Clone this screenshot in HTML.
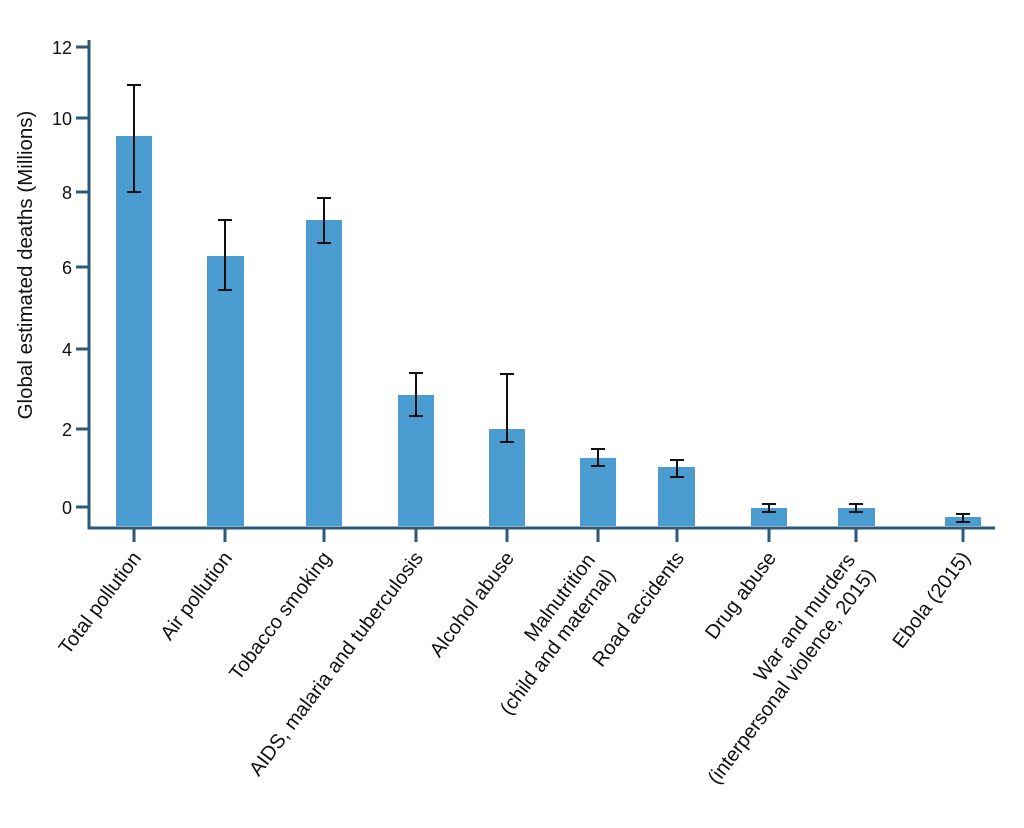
<!DOCTYPE html>
<html><head><meta charset="utf-8"><style>
body{margin:0;background:#fff}
svg{display:block;font-family:"Liberation Sans",Arial,sans-serif}
</style></head><body>
<svg width="1024" height="828" viewBox="0 0 1024 828">
<g fill="#4a9cd1">
<rect x="116" y="136" width="36" height="390"/>
<rect x="207" y="256" width="37" height="270"/>
<rect x="306" y="220" width="36" height="306"/>
<rect x="398" y="395" width="36" height="131"/>
<rect x="489" y="429" width="36" height="97"/>
<rect x="580" y="458" width="36" height="68"/>
<rect x="658" y="467" width="37" height="59"/>
<rect x="751" y="508" width="36" height="18"/>
<rect x="838" y="508" width="37" height="18"/>
<rect x="945" y="517" width="36" height="9"/>
</g>
<g stroke="#111" stroke-width="2" fill="none">
<path d="M134 85V192M127 85h14M127 192h14"/>
<path d="M225 220V290M218 220h14M218 290h14"/>
<path d="M324 198V243M317 198h14M317 243h14"/>
<path d="M416 373V416M409 373h14M409 416h14"/>
<path d="M507 374V442M500 374h14M500 442h14"/>
<path d="M598 449V466M591 449h14M591 466h14"/>
<path d="M677 460V477M670 460h14M670 477h14"/>
<path d="M769 504V512M762 504h14M762 512h14"/>
<path d="M856 504V512M849 504h14M849 512h14"/>
<path d="M963 514V522M956 514h14M956 522h14"/>
</g>
<g stroke="#2d5a7b" stroke-width="3" fill="none">
<path d="M89 40V528H995"/>
<path d="M76 47H89M76 118H89M76 192H89M76 267H89M76 349H89M76 429H89M76 507H89"/>
<path d="M134 528v14M225 528v14M324 528v14M416 528v14M507 528v14M598 528v14M677 528v14M769 528v14M856 528v14M963 528v14"/>
</g>
<g font-size="18" text-anchor="end" fill="#111">
<text x="72" y="54">12</text><text x="72" y="125">10</text><text x="72" y="199">8</text>
<text x="72" y="274">6</text><text x="72" y="356">4</text><text x="72" y="436">2</text><text x="72" y="514">0</text>
</g>
<text transform="translate(32,265) rotate(-90)" font-size="20.5" text-anchor="middle" fill="#111">Global estimated deaths (Millions)</text>
<g font-size="20" fill="#111" text-anchor="end">
<text transform="translate(142,558) rotate(-53)">Total pollution</text>
<text transform="translate(233,558) rotate(-53)">Air pollution</text>
<text transform="translate(332,558) rotate(-53)">Tobacco smoking</text>
<text transform="translate(424,558) rotate(-53)">AIDS, malaria and tuberculosis</text>
<text transform="translate(515,558) rotate(-53)">Alcohol abuse</text>
<g transform="translate(596,560) rotate(-53)"><text x="0" y="0">Malnutrition</text><text x="0" y="25">(child and maternal)</text></g>
<text transform="translate(685,558) rotate(-53)">Road accidents</text>
<text transform="translate(777,558) rotate(-53)">Drug abuse</text>
<g transform="translate(856,560) rotate(-53)"><text x="0" y="0">War and murders</text><text x="0" y="25">(interpersonal violence, 2015)</text></g>
<text transform="translate(971,558) rotate(-53)">Ebola (2015)</text>
</g>
</svg>
</body></html>
